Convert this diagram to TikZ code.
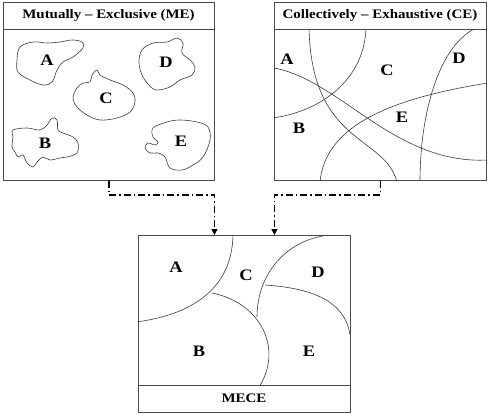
\documentclass[tikz,border=0pt]{standalone}
\usepackage{fontspec}
\setmainfont{Liberation Serif}[FakeStretch=1.15]
\usepackage{tikz}
\usetikzlibrary{positioning,arrows.meta,calc}
\definecolor{frame}{HTML}{4A4A4A}
\definecolor{ink}{HTML}{3A3A3A}
\tikzset{
  panel/.style={draw=frame, line width=0.9pt, anchor=north west, inner sep=0pt},
  head/.style={font=\fontsize{13}{15}\selectfont\bfseries},
  part/.style={font=\fontsize{16}{18}\selectfont\bfseries},
  border/.style={draw=ink, line width=0.6pt},
  link/.style={draw=black, line width=1.3pt, dash pattern=on 7pt off 3pt on 1.5pt off 3pt,
               -{Triangle[length=6pt,width=6pt]}},
}

\begin{document}
\begin{tikzpicture}[x=1pt,y=-1pt]
  \useasboundingbox (0,0) rectangle (489,415);

  % ------------------------------------------------ mutually exclusive
  \node[panel, minimum width=211pt, minimum height=178pt] (me) at (3,2) {};
  \draw[panel] (3,29) -- (214,29);
  \node[head] (meT) at (108.5,15.5) {Mutually -- Exclusive (ME)};

  \draw[border] plot[smooth cycle, tension=0.6] coordinates {(20,47) (33,42) (47,43) (60,42) (72,40) (82,42) (83,48)
    (73,57) (63,62) (57,70) (52,82) (43,85) (30,80) (18,72) (17,60)};
  \draw[border] plot[smooth cycle, tension=0.6] coordinates {(77,88) (83,83) (90,82) (92,75) (97,70) (100,75) (110,80)
    (123,85) (133,93) (135,102) (130,112) (117,118) (100,120) (87,115) (77,107) (73,98)};
  \draw[border] plot[smooth cycle, tension=0.6] coordinates {(142,50) (153,43) (167,42) (177,38) (183,43) (182,53)
    (190,60) (195,67) (192,75) (180,80) (170,87) (158,90) (152,88) (143,77) (139,63)};
  \draw[border] plot[smooth cycle, tension=0.6] coordinates {(13,130) (27,128) (40,130) (47,125) (52,118) (57,120)
    (58,130) (63,133) (73,137) (78,143) (77,153) (67,157) (60,158) (50,160) (43,157) (37,162) (33,167)
    (27,163) (23,155) (18,157) (15,152) (12,147) (13,137)};
  \draw[border] plot[smooth cycle, tension=0.6] coordinates {(153,128) (167,122) (180,120) (197,122) (208,127)
    (210,140) (203,157) (193,165) (182,170) (170,168) (165,157) (158,153) (150,153) (145,148) (148,143)
    (155,145) (158,142) (153,137)};

  \node[part] (meA) at (47,60) {A};
  \node[part] (meB) at (45,143) {B};
  \node[part] (meC) at (106,98) {C};
  \node[part] (meD) at (166,62) {D};
  \node[part] (meE) at (181,141) {E};

  % ------------------------------------------------ collectively exhaustive
  \node[panel, minimum width=212pt, minimum height=178pt] (ce) at (274,2) {};
  \draw[panel] (274,29) -- (486,29);
  \node[head] (ceT) at (380,15.5) {Collectively -- Exhaustive (CE)};

  \begin{scope}
    \clip (274,29) rectangle (486,180);
    \draw[border] (309,27) .. controls (311,145) and (385,135) .. (397,182);
    \draw[border] (366,27) .. controls (365,80) and (320,112) .. (272,118);
    \draw[border] (274,68) .. controls (340,80) and (395,165) .. (488,160);
    \draw[border] (320,182) .. controls (325,130) and (380,100) .. (488,83);
    \draw[border] (420,182) .. controls (420,110) and (440,45) .. (476,28);
  \end{scope}

  \node[part] (ceA) at (287,59) {A};
  \node[part] (ceB) at (299,128) {B};
  \node[part] (ceC) at (387,70) {C};
  \node[part] (ceD) at (459,58) {D};
  \node[part] (ceE) at (402,117) {E};

  % ------------------------------------------------ the combination
  \node[panel, minimum width=212pt, minimum height=177pt] (mece) at (138,235) {};
  \draw[panel] (138,385) -- (350,385);
  \node[head] (meceT) at (244,398.5) {MECE};

  \begin{scope}
    \clip (138,235) rectangle (350,385);
    \draw[border] (233,233) .. controls (233,290) and (190,315) .. (136,322);
    \draw[border] (212,293) .. controls (262,303) and (283,350) .. (259,387);
    \draw[border] (329,235) .. controls (285,240) and (257,275) .. (257,317);
    \draw[border] (265,285) .. controls (310,288) and (345,300) .. (350,335);
  \end{scope}

  \node[part] (meceA) at (176,267) {A};
  \node[part] (meceB) at (199,351) {B};
  \node[part] (meceC) at (246,275) {C};
  \node[part] (meceD) at (318,272) {D};
  \node[part] (meceE) at (309,351) {E};

  % ------------------------------------------------ both feed the result
  \draw[link] (me.south) -- ++(0,14) -| ([xshift=-30pt]mece.north);
  \draw[link] (ce.south) -- ++(0,14) -| ([xshift=30pt]mece.north);
\end{tikzpicture}
\end{document}
